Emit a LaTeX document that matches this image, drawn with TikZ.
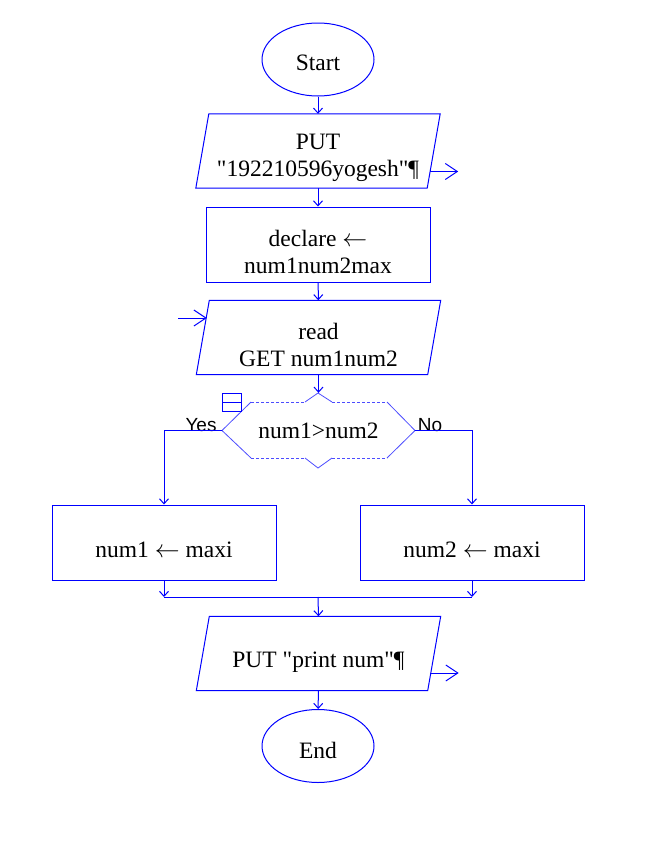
\documentclass[tikz,border=0pt]{standalone}
\usepackage{fontspec}
\setmainfont{Liberation Serif}[Ligatures=TeXOff]
\newfontfamily\labelfont{Liberation Sans}
\usetikzlibrary{shapes.geometric,arrows.meta}

\tikzset{
  base/.style={draw=blue, line width=1pt, inner sep=2pt},
  txt/.style={font=\fontsize{23.5}{27}\selectfont, align=center, inner sep=0pt},
  terminal/.style={base, ellipse, minimum width=112pt, minimum height=73pt},
  process/.style={base, rectangle, minimum width=224pt, minimum height=75pt},
  inout/.style={rectangle, minimum width=231pt, minimum height=74pt},
  conn/.style={draw=blue, line width=1pt, -{Straight Barb[length=5pt,width=9pt]}},
  ioarrow/.style={draw=blue, line width=1pt, -{Straight Barb[length=12pt,width=16pt]}},
  hexline/.style={draw=blue!70, line width=0.8pt},
  yesno/.style={font=\labelfont\fontsize{19}{22}\selectfont, inner sep=0pt},
}

% parallelogram round an inout node
\newcommand{\drawinout}[1]{%
  \draw[draw=blue, line width=1pt] ([xshift=-6.5pt]#1.south west) -- ([xshift=-6.5pt]#1.south east)
    -- ([xshift=6.5pt]#1.north east) -- ([xshift=6.5pt]#1.north west) -- cycle;}

\begin{document}
\begin{tikzpicture}[x=1pt, y=-1pt]
\useasboundingbox (0,0) rectangle (667,860);

% Start
\node[terminal] (start) at (318,59.5) {};
\node[txt] (startT) at ([yshift=-3pt]start.center) {Start};

% Output name
\node[inout] (put) at (318,151) {};
\drawinout{put}
\node[txt] (putT) at ([yshift=-7pt]put.center) {PUT\\"192210596yogesh"¶};

% Declare
\node[process] (declare) at (318,244.5) {};
\node[txt] (declareT) at ([yshift=-7pt]declare.center) {declare $\leftarrow$\\num1num2max};

% Input
\node[inout] (read) at (318.5,337.5) {};
\drawinout{read}
\node[txt] (readT) at ([yshift=-7pt]read.center) {read\\GET num1num2};

% Decision
\node[draw=none, rectangle, minimum width=193pt, minimum height=75pt] (cond) at (318.5,430.5) {};
\node[txt] (condT) at (cond.center) {num1>num2};
\draw[hexline] (251,402) -- (222,430.5) -- (251,458);
\draw[hexline] (387,402) -- (415,430.5) -- (387,458);
\draw[hexline] (305,402) -- (318,393) -- (332,402);
\draw[hexline] (305,458) -- (318,468) -- (332,458);
\draw[hexline, dash pattern=on 3pt off 2pt] (251,402) -- (305,402) (332,402) -- (387,402);
\draw[hexline, dash pattern=on 3pt off 2pt] (251,458) -- (305,458) (332,458) -- (387,458);
\draw[draw=blue, line width=1pt] (222,393) rectangle (241,411) (222,402) -- (241,402);

% Branches
\node[process] (left) at (164,542.5) {};
\node[txt] (leftT) at ([yshift=-7pt]left.center) {num1 $\leftarrow$ maxi};
\node[process] (right) at (472,542.5) {};
\node[txt] (rightT) at ([yshift=-7pt]right.center) {num2 $\leftarrow$ maxi};
\node[yesno] (yes) at (201,425) {Yes};
\node[yesno] (no) at (430,425) {No};

% Output result
\node[inout] (print) at (318.5,653.5) {};
\drawinout{print}
\node[txt] (printT) at ([yshift=-9pt]print.center) {PUT "print num"¶};

% End
\node[terminal] (end) at (318,746) {};
\node[txt] (endT) at ([yshift=-4pt]end.center) {End};

% Connectors
\draw[conn] (start) -- (put);
\draw[conn] (put) -- (declare);
\draw[conn] (declare) -- (read);
\draw[conn] (read.south) -- (cond.north);
\draw[conn] (cond.west) -| (left.north);
\draw[conn] (cond.east) -| (right.north);

\coordinate (mergeL) at (164,597);
\coordinate (mergeR) at (472,597);
\coordinate (merge) at (318,597);
\draw[conn] (left.south) -- (mergeL);
\draw[conn] (right.south) -- (mergeR);
\draw[draw=blue, line width=1pt] (mergeL) -- (mergeR);
\draw[conn] (merge) -- (print.north);
\draw[conn] (print) -- (end);

% In and out arrows
\coordinate (inRead) at (178,318);
\coordinate (putEdge) at ([xshift=-3.5pt, yshift=-20.5pt]put.east);
\coordinate (printEdge) at ([xshift=-3.5pt, yshift=-19.5pt]print.east);
\path (putEdge) ++(28,0) coordinate (outPut);
\path (printEdge) ++(28,0) coordinate (outPrint);
\draw[ioarrow] (inRead) -- ([xshift=4pt]inRead -| read.west);
\draw[ioarrow] (putEdge) -- (outPut);
\draw[ioarrow] (printEdge) -- (outPrint);

\end{tikzpicture}
\end{document}
